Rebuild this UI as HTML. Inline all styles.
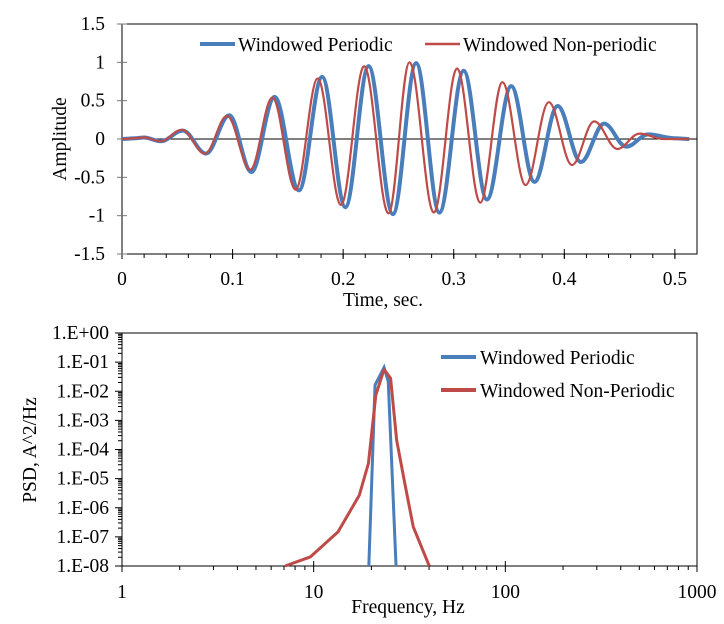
<!DOCTYPE html>
<html><head><meta charset="utf-8">
<style>
html,body{margin:0;padding:0;background:#fff;}
svg{display:block;font-family:"Liberation Serif",serif;}
</style></head>
<body>
<svg id="svg" width="724" height="624" viewBox="0 0 724 624">
<g id="top"></g>
<g id="bot"></g>
</svg>
<script>
// ---- Top chart data (extrema) ----
const periodicT = [0,0.012,0.02,0.035,0.055,0.076,0.097,0.117,0.138,0.16,0.181,0.202,0.223,0.245,0.266,0.287,0.309,0.330,0.352,0.373,0.394,0.415,0.436,0.456,0.476,0.50,0.513];
const periodicV = [0,0.01,0.02,-0.03,0.11,-0.19,0.31,-0.43,0.55,-0.67,0.81,-0.89,0.95,-0.98,0.99,-0.96,0.89,-0.79,0.69,-0.56,0.43,-0.30,0.20,-0.10,0.06,0.01,0];
const nonPeriodicT = [0,0.012,0.02,0.035,0.054,0.075,0.095,0.116,0.136,0.157,0.177,0.198,0.219,0.241,0.260,0.282,0.303,0.324,0.344,0.365,0.386,0.407,0.427,0.448,0.468,0.49,0.513];
const nonPeriodicV = [0,0.01,0.02,-0.03,0.12,-0.19,0.30,-0.40,0.54,-0.66,0.79,-0.86,0.95,-0.97,1.0,-0.96,0.92,-0.83,0.74,-0.60,0.48,-0.34,0.23,-0.13,0.07,0,0];
const ampTicks = [-1.5,-1,-0.5,0,0.5,1,1.5];
const ampTickLabels = ["-1.5","-1","-0.5","0","0.5","1","1.5"];
const timeTicks = [0,0.1,0.2,0.3,0.4,0.5];
const timeTickLabels = ["0","0.1","0.2","0.3","0.4","0.5"];
// ---- Bottom chart data ----
const psdPerF = [19.4,20.9,23.3,24.5,26.9];
const psdPerP = [1e-8,10**-1.79,10**-1.18,10**-1.67,1e-8];
const psdNonF = [7.1,9.6,13.4,17.3,19.3,21.1,23.3,25.2,27.1,29.9,33.1,40.1];
const psdNonP = [1e-8,10**-7.69,10**-6.83,10**-5.57,10**-4.48,10**-2.13,10**-1.25,10**-1.56,10**-3.68,10**-5.17,10**-6.66,1e-8];
const freqTicks = [1,10,100,1000];
const freqTickLabels = ["1","10","100","1000"];
const psdTicks = [0,-1,-2,-3,-4,-5,-6,-7,-8];
const psdTickLabels = ["1.E+00","1.E-01","1.E-02","1.E-03","1.E-04","1.E-05","1.E-06","1.E-07","1.E-08"];

const NS="http://www.w3.org/2000/svg";
const FS=19.5;
function mk(parent,tag,attrs,text){const e=document.createElementNS(NS,tag);for(const k in attrs)e.setAttribute(k,attrs[k]);if(text!==undefined)e.textContent=text;parent.appendChild(e);return e;}
const BLUE="#4a7ebb", RED="#be4b48";

// ===== Top chart =====
const T=document.getElementById('top');
const L=122,R=697,TT=24,TB=254;
const tx=t=>L+t*(R-L)/0.52;
const ty=v=>TB-(v+1.5)*(TB-TT)/3;
let e;
e=mk(T,'rect',{x:L,y:TT,width:R-L,height:TB-TT,fill:'none',stroke:'#000','stroke-width':1});


for(let i=0;i<=25;i++){const x=tx(i*0.02);mk(T,'line',{x1:x,x2:x,y1:TB,y2:TB+4,stroke:'#000'});}
timeTicks.forEach((t,i)=>{const x=tx(t);mk(T,'line',{x1:x,x2:x,y1:TB-5,y2:TB+5,stroke:'#000'});
 e=mk(T,'text',{x:x,y:TB+31,'text-anchor':'middle','font-size':FS},timeTickLabels[i]);
 
 });
ampTicks.forEach((v,i)=>{const y=ty(v);mk(T,'line',{x1:L-5,x2:L+5,y1:y,y2:y,stroke:'#777'});
 e=mk(T,'text',{x:L-17,y:y+6,'text-anchor':'end','font-size':FS},ampTickLabels[i]);
 
 });
mk(T,'line',{x1:L,x2:R,y1:ty(0),y2:ty(0),stroke:'#000','stroke-width':1});
function smooth(ts,vs,fx,fy){let d=`M${fx(ts[0])},${fy(vs[0])}`;for(let i=1;i<ts.length;i++){const x0=fx(ts[i-1]),x1=fx(ts[i]),y0=fy(vs[i-1]),y1=fy(vs[i]);const k=0.36*(x1-x0);d+=` C${x0+k},${y0} ${x1-k},${y1} ${x1},${y1}`;}return d;}
e=mk(T,'path',{d:smooth(periodicT,periodicV,tx,ty),fill:'none',stroke:BLUE,'stroke-width':4});


e=mk(T,'path',{d:smooth(nonPeriodicT,nonPeriodicV,tx,ty),fill:'none',stroke:RED,'stroke-width':2.2});


e=mk(T,'rect',{x:196,y:31,width:475,height:26,fill:'#fff'});
mk(T,'line',{x1:200,x2:235,y1:44,y2:44,stroke:BLUE,'stroke-width':4});
e=mk(T,'text',{x:238,y:51,'font-size':FS},'Windowed Periodic');


mk(T,'line',{x1:425,x2:460,y1:44,y2:44,stroke:RED,'stroke-width':2.5});
e=mk(T,'text',{x:463,y:51,'font-size':FS},'Windowed Non-periodic');


e=mk(T,'text',{x:383,y:306,'text-anchor':'middle','font-size':FS},'Time, sec.');


e=mk(T,'text',{x:0,y:0,'text-anchor':'middle','font-size':FS,transform:'translate(66,139) rotate(-90)'},'Amplitude');



// ===== Bottom chart =====
const B=document.getElementById('bot');
const BL=122,BR=697,BT=333,BB=566;
const bx=f=>BL+Math.log10(f)*(BR-BL)/3;
const by=p=>BT+(-Math.log10(p))*(BB-BT)/8;
e=mk(B,'rect',{x:BL,y:BT,width:BR-BL,height:BB-BT,fill:'none',stroke:'#000','stroke-width':1});


for(let dcd=0;dcd<3;dcd++)for(let m=2;m<=9;m++){const x=bx(m*10**dcd);mk(B,'line',{x1:x,x2:x,y1:BB,y2:BB+4,stroke:'#000'});}
for(let dcd=-8;dcd<0;dcd++)for(let m=2;m<=9;m++){const y=by(m*10**dcd);mk(B,'line',{x1:BL-4,x2:BL,y1:y,y2:y,stroke:'#000'});}
freqTicks.forEach((f,i)=>{const x=bx(f);mk(B,'line',{x1:x,x2:x,y1:BB-5,y2:BB+6,stroke:'#000'});
 e=mk(B,'text',{x:x,y:BB+32,'text-anchor':'middle','font-size':FS},freqTickLabels[i]);
 
 });
psdTicks.forEach((p,i)=>{const y=by(10**p);mk(B,'line',{x1:BL-7,x2:BL,y1:y,y2:y,stroke:'#000'});
 e=mk(B,'text',{x:BL-13,y:y+6,'text-anchor':'end','font-size':FS},psdTickLabels[i]);
 
 });
e=mk(B,'polyline',{points:psdPerF.map((f,i)=>bx(f)+','+by(psdPerP[i])).join(' '),fill:'none',stroke:BLUE,'stroke-width':3});


e=mk(B,'polyline',{points:psdNonF.map((f,i)=>bx(f)+','+by(psdNonP[i])).join(' '),fill:'none',stroke:RED,'stroke-width':3,'stroke-linejoin':'round'});


mk(B,'line',{x1:441,x2:476,y1:357,y2:357,stroke:BLUE,'stroke-width':4});
e=mk(B,'text',{x:480,y:364,'font-size':FS},'Windowed Periodic');


mk(B,'line',{x1:441,x2:476,y1:390,y2:390,stroke:RED,'stroke-width':4});
e=mk(B,'text',{x:480,y:397,'font-size':FS},'Windowed Non-Periodic');


e=mk(B,'text',{x:408,y:613,'text-anchor':'middle','font-size':FS},'Frequency, Hz');


e=mk(B,'text',{x:0,y:0,'text-anchor':'middle','font-size':FS,transform:'translate(36,450) rotate(-90)'},'PSD, A^2/Hz');


</script>
</body></html>
